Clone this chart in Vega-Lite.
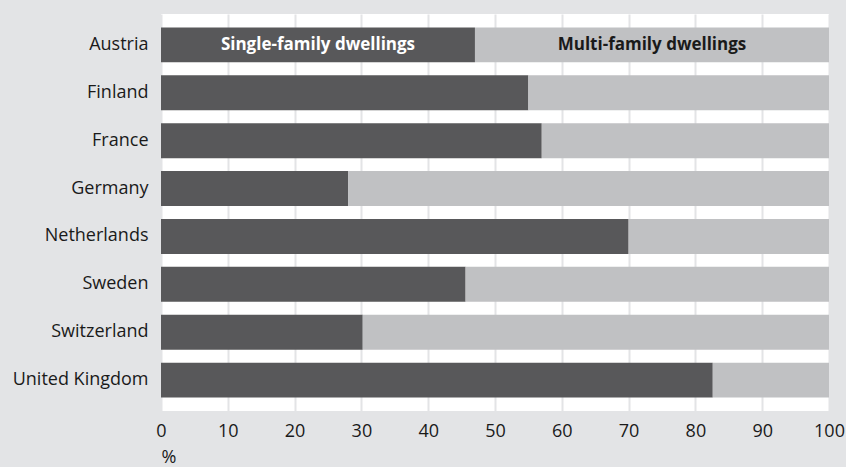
{
  "$schema": "https://vega.github.io/schema/vega-lite/v6.json",
  "autosize": "none",
  "width": 668,
  "height": 397,
  "padding": {"left": 161, "top": 14, "right": 17, "bottom": 56},
  "background": "#e3e4e6",
  "config": {
    "view": {"fill": "#ffffff", "stroke": null},
    "font": "Open Sans"
  },
  "data": {
    "values": [
      {"country": "Austria", "type": "Single-family dwellings", "order": 1, "share": 47},
      {"country": "Austria", "type": "Multi-family dwellings", "order": 2, "share": 53},
      {"country": "Finland", "type": "Single-family dwellings", "order": 1, "share": 55},
      {"country": "Finland", "type": "Multi-family dwellings", "order": 2, "share": 45},
      {"country": "France", "type": "Single-family dwellings", "order": 1, "share": 57},
      {"country": "France", "type": "Multi-family dwellings", "order": 2, "share": 43},
      {"country": "Germany", "type": "Single-family dwellings", "order": 1, "share": 28},
      {"country": "Germany", "type": "Multi-family dwellings", "order": 2, "share": 72},
      {"country": "Netherlands", "type": "Single-family dwellings", "order": 1, "share": 70},
      {"country": "Netherlands", "type": "Multi-family dwellings", "order": 2, "share": 30},
      {"country": "Sweden", "type": "Single-family dwellings", "order": 1, "share": 45.6},
      {"country": "Sweden", "type": "Multi-family dwellings", "order": 2, "share": 54.4},
      {"country": "Switzerland", "type": "Single-family dwellings", "order": 1, "share": 30.2},
      {"country": "Switzerland", "type": "Multi-family dwellings", "order": 2, "share": 69.8},
      {"country": "United Kingdom", "type": "Single-family dwellings", "order": 1, "share": 82.6},
      {"country": "United Kingdom", "type": "Multi-family dwellings", "order": 2, "share": 17.4}
    ]
  },
  "encoding": {
    "y": {
      "field": "country",
      "type": "nominal",
      "sort": null,
      "scale": {"paddingInner": 0.27, "paddingOuter": 0.28},
      "axis": {
        "title": null,
        "domain": false,
        "ticks": false,
        "labelPadding": 13,
        "labelFontSize": 18,
        "labelColor": "#1a1a1a"
      }
    }
  },
  "layer": [
    {
      "mark": {"type": "bar"},
      "encoding": {
        "x": {
          "field": "share",
          "type": "quantitative",
          "stack": "zero",
          "scale": {"domain": [0, 100], "nice": false},
          "axis": {
            "title": "%",
            "titleFontWeight": "normal",
            "titleFontSize": 18,
            "titleColor": "#1a1a1a",
            "titleAnchor": "start",
            "titleAlign": "left",
            "titlePadding": 8,
            "values": [0, 10, 20, 30, 40, 50, 60, 70, 80, 90, 100],
            "domain": false,
            "ticks": false,
            "labelPadding": 11,
            "labelFontSize": 18,
            "labelColor": "#1a1a1a",
            "labelFlush": false,
            "grid": true,
            "gridColor": "#e3e4e6",
            "gridWidth": 2
          }
        },
        "color": {
          "field": "type",
          "type": "nominal",
          "scale": {
            "domain": ["Single-family dwellings", "Multi-family dwellings"],
            "range": ["#58585a", "#c0c1c3"]
          },
          "legend": null
        },
        "order": {"field": "order", "type": "quantitative"}
      }
    },
    {
      "transform": [
        {"filter": "datum.country === 'Austria'"},
        {
          "stack": "share",
          "groupby": ["country"],
          "sort": [{"field": "order", "order": "ascending"}],
          "as": ["s0", "s1"]
        },
        {"calculate": "(datum.s0 + datum.s1) / 2", "as": "mid"}
      ],
      "mark": {"type": "text", "fontWeight": "bold", "fontSize": 17, "align": "center", "baseline": "middle"},
      "encoding": {
        "x": {"field": "mid", "type": "quantitative"},
        "text": {"field": "type"},
        "fill": {
          "condition": {"test": "datum.order === 1", "value": "#ffffff"},
          "value": "#1a1a1a"
        }
      }
    }
  ]
}
